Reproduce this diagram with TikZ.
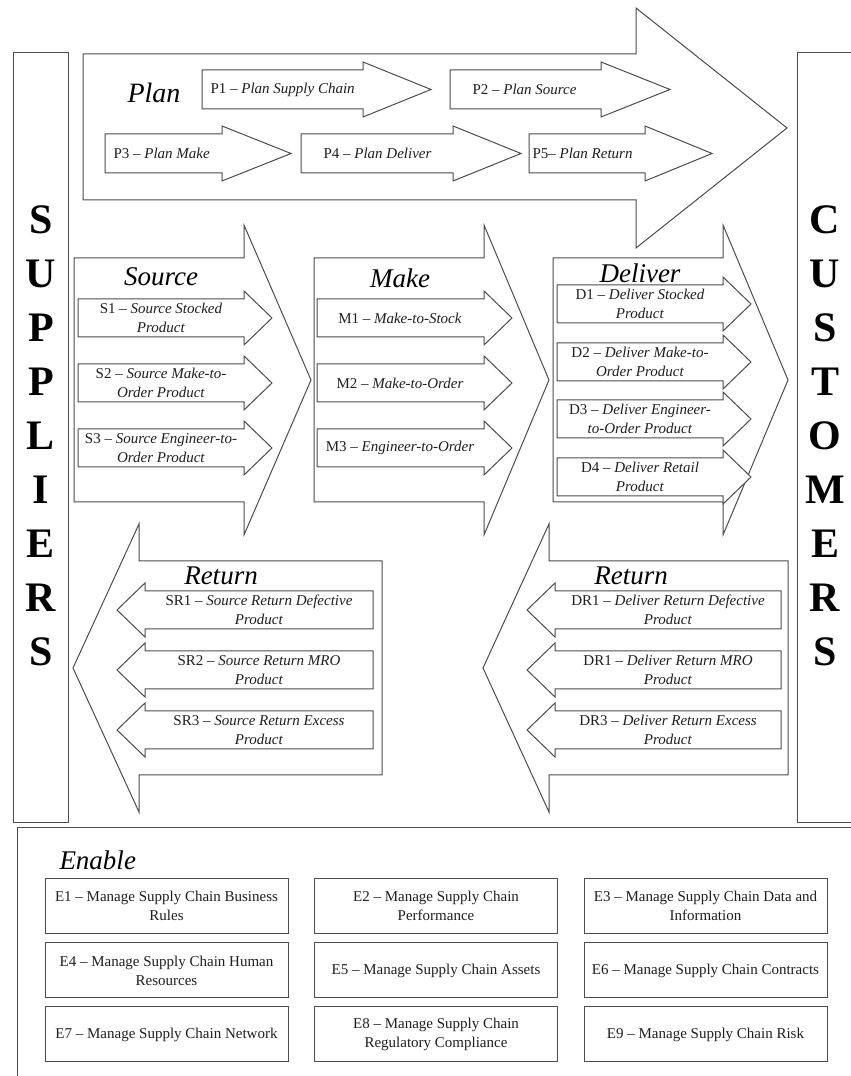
\documentclass[tikz,border=0pt]{standalone}
\usepackage{fontspec}
\setmainfont{Liberation Serif}
\begin{document}
\begin{tikzpicture}[>=latex,line join=miter,
  blockarrow/.style={draw=strokecol,fill=white},
  small/.style={inner sep=0pt,align=center,text=textcol,font=\fontsize{15bp}{19bp}\selectfont},
  heading/.style={inner sep=0pt,font=\fontsize{27bp}{30bp}\selectfont\itshape},
  ebox/.style={draw=strokecol,fill=white,minimum width=243bp,minimum height=55bp,inner sep=0pt,
    align=center,text=textcol,font=\fontsize{15bp}{19bp}\selectfont},
  side/.style={inner sep=0pt,align=center,font=\fontsize{42bp}{54bp}\selectfont\bfseries}]
  \pgfsetlinewidth{1bp}
  \definecolor{strokecol}{rgb}{0.3,0.3,0.3}
  \definecolor{textcol}{rgb}{0.12,0.12,0.12}
  \useasboundingbox (0bp,0bp) rectangle (851bp,1076bp);
  \fill[white] (0bp,0bp) rectangle (851bp,1076bp);
  \clip (0bp,0bp) rectangle (851bp,1076bp);
  % Frame: Suppliers
  \draw[strokecol] (13bp,253bp) rectangle (68bp,1023bp);
  \node[side] (suppliers) at (41bp,640bp) {S\\U\\P\\P\\L\\I\\E\\R\\S};
  % Frame: Customers
  \draw[strokecol] (797bp,253bp) rectangle (860bp,1023bp);
  \node[side] (customers) at (825bp,640bp) {C\\U\\S\\T\\O\\M\\E\\R\\S};
  % Frame: Enable
  \draw[strokecol] (17bp,-10bp) rectangle (860bp,248bp);
  %
  % Arrow: Plan
  \draw[blockarrow] (83bp,1022bp) -- (636bp,1022bp) -- (636bp,1068bp) -- (787bp,948bp) -- (636bp,828bp) -- (636bp,876bp) -- (83bp,876bp) -- cycle;
  \node[heading,font=\fontsize{28bp}{30bp}\selectfont\itshape] (plan) at (154bp,983bp) {Plan};
  % Arrow: P1
  \draw[blockarrow] (202bp,1006bp) -- (363bp,1006bp) -- (363bp,1014bp) -- (431bp,986.5bp) -- (363bp,959bp) -- (363bp,967bp) -- (202bp,967bp) -- cycle;
  \node[small,anchor=west] (p1) at (210bp,986.5bp) {P1 -- \textit{Plan Supply Chain}};
  % Arrow: P2
  \draw[blockarrow] (450bp,1006bp) -- (601bp,1006bp) -- (601bp,1014bp) -- (670bp,986.5bp) -- (601bp,959bp) -- (601bp,967bp) -- (450bp,967bp) -- cycle;
  \node[small,anchor=west] (p2) at (472bp,986.5bp) {P2 -- \textit{Plan Source}};
  % Arrow: P3
  \draw[blockarrow] (105bp,942bp) -- (222bp,942bp) -- (222bp,950bp) -- (291bp,922.5bp) -- (222bp,895bp) -- (222bp,903bp) -- (105bp,903bp) -- cycle;
  \node[small,anchor=west] (p3) at (113bp,922.5bp) {P3 -- \textit{Plan Make}};
  % Arrow: P4
  \draw[blockarrow] (301bp,942bp) -- (453bp,942bp) -- (453bp,950bp) -- (521bp,922.5bp) -- (453bp,895bp) -- (453bp,903bp) -- (301bp,903bp) -- cycle;
  \node[small,anchor=west] (p4) at (323bp,922.5bp) {P4 -- \textit{Plan Deliver}};
  % Arrow: P5
  \draw[blockarrow] (529bp,942bp) -- (645bp,942bp) -- (645bp,950bp) -- (712bp,922.5bp) -- (645bp,895bp) -- (645bp,903bp) -- (529bp,903bp) -- cycle;
  \node[small,anchor=west] (p5) at (532bp,922.5bp) {P5-- \textit{Plan Return}};
  %
  % Arrow: Source
  \draw[blockarrow] (74bp,818bp) -- (244bp,818bp) -- (244bp,851bp) -- (311bp,696bp) -- (244bp,541bp) -- (244bp,574bp) -- (74bp,574bp) -- cycle;
  \node[heading] (source) at (161bp,799bp) {Source};
  % Arrow: S1
  \draw[blockarrow] (78bp,777bp) -- (244bp,777bp) -- (244bp,785bp) -- (272bp,758bp) -- (244bp,731bp) -- (244bp,739bp) -- (78bp,739bp) -- cycle;
  \node[small] (s1) at (161bp,758bp) {S1 -- \textit{Source Stocked}\\\textit{Product}};
  % Arrow: S2
  \draw[blockarrow] (78bp,712bp) -- (244bp,712bp) -- (244bp,720bp) -- (272bp,693bp) -- (244bp,666bp) -- (244bp,674bp) -- (78bp,674bp) -- cycle;
  \node[small] (s2) at (161bp,693bp) {S2 -- \textit{Source Make-to-}\\\textit{Order Product}};
  % Arrow: S3
  \draw[blockarrow] (78bp,647bp) -- (244bp,647bp) -- (244bp,655bp) -- (272bp,628bp) -- (244bp,601bp) -- (244bp,609bp) -- (78bp,609bp) -- cycle;
  \node[small] (s3) at (161bp,628bp) {S3 -- \textit{Source Engineer-to-}\\\textit{Order Product}};
  %
  % Arrow: Make
  \draw[blockarrow] (314bp,818bp) -- (484bp,818bp) -- (484bp,851bp) -- (549bp,696bp) -- (484bp,541bp) -- (484bp,574bp) -- (314bp,574bp) -- cycle;
  \node[heading] (make) at (400bp,798bp) {Make};
  % Arrow: M1
  \draw[blockarrow] (317bp,777bp) -- (484bp,777bp) -- (484bp,785bp) -- (512bp,758bp) -- (484bp,731bp) -- (484bp,739bp) -- (317bp,739bp) -- cycle;
  \node[small] (m1) at (400bp,758bp) {M1 -- \textit{Make-to-Stock}};
  % Arrow: M2
  \draw[blockarrow] (317bp,712bp) -- (484bp,712bp) -- (484bp,720bp) -- (512bp,693bp) -- (484bp,666bp) -- (484bp,674bp) -- (317bp,674bp) -- cycle;
  \node[small] (m2) at (400bp,693bp) {M2 -- \textit{Make-to-Order}};
  % Arrow: M3
  \draw[blockarrow] (317bp,647bp) -- (484bp,647bp) -- (484bp,655bp) -- (512bp,628bp) -- (484bp,601bp) -- (484bp,609bp) -- (317bp,609bp) -- cycle;
  \node[small] (m3) at (400bp,628bp) {M3 -- \textit{Engineer-to-Order}};
  %
  % Arrow: Deliver
  \draw[blockarrow] (553bp,818bp) -- (723bp,818bp) -- (723bp,851bp) -- (788bp,696bp) -- (723bp,541bp) -- (723bp,574bp) -- (553bp,574bp) -- cycle;
  \node[heading] (deliver) at (640bp,803bp) {Deliver};
  % Arrow: D1
  \draw[blockarrow] (557bp,791bp) -- (723bp,791bp) -- (723bp,799bp) -- (751bp,772bp) -- (723bp,745bp) -- (723bp,753bp) -- (557bp,753bp) -- cycle;
  \node[small] (d1) at (640bp,772bp) {D1 -- \textit{Deliver Stocked}\\\textit{Product}};
  % Arrow: D2
  \draw[blockarrow] (557bp,733bp) -- (723bp,733bp) -- (723bp,741bp) -- (751bp,714bp) -- (723bp,687bp) -- (723bp,695bp) -- (557bp,695bp) -- cycle;
  \node[small] (d2) at (640bp,714bp) {D2 -- \textit{Deliver Make-to-}\\\textit{Order Product}};
  % Arrow: D3
  \draw[blockarrow] (557bp,676bp) -- (723bp,676bp) -- (723bp,684bp) -- (751bp,657bp) -- (723bp,630bp) -- (723bp,638bp) -- (557bp,638bp) -- cycle;
  \node[small] (d3) at (640bp,657bp) {D3 -- \textit{Deliver Engineer-}\\\textit{to-Order Product}};
  % Arrow: D4
  \draw[blockarrow] (557bp,618bp) -- (723bp,618bp) -- (723bp,626bp) -- (751bp,599bp) -- (723bp,572bp) -- (723bp,580bp) -- (557bp,580bp) -- cycle;
  \node[small] (d4) at (640bp,599bp) {D4 -- \textit{Deliver Retail}\\\textit{Product}};
  %
  % Arrow: Source Return
  \draw[blockarrow] (382bp,515bp) -- (139bp,515bp) -- (139bp,552bp) -- (73bp,408bp) -- (139bp,264bp) -- (139bp,301bp) -- (382bp,301bp) -- cycle;
  \node[heading] (sreturn) at (221bp,500bp) {Return};
  % Arrow: SR1
  \draw[blockarrow] (373bp,485bp) -- (145bp,485bp) -- (145bp,493bp) -- (117bp,466bp) -- (145bp,439bp) -- (145bp,447bp) -- (373bp,447bp) -- cycle;
  \node[small] (sr1) at (259bp,466bp) {SR1 -- \textit{Source Return Defective}\\\textit{Product}};
  % Arrow: SR2
  \draw[blockarrow] (373bp,425bp) -- (145bp,425bp) -- (145bp,433bp) -- (117bp,406bp) -- (145bp,379bp) -- (145bp,387bp) -- (373bp,387bp) -- cycle;
  \node[small] (sr2) at (259bp,406bp) {SR2 -- \textit{Source Return MRO}\\\textit{Product}};
  % Arrow: SR3
  \draw[blockarrow] (373bp,365bp) -- (145bp,365bp) -- (145bp,373bp) -- (117bp,346bp) -- (145bp,319bp) -- (145bp,327bp) -- (373bp,327bp) -- cycle;
  \node[small] (sr3) at (259bp,346bp) {SR3 -- \textit{Source Return Excess}\\\textit{Product}};
  %
  % Arrow: Deliver Return
  \draw[blockarrow] (788bp,515bp) -- (549bp,515bp) -- (549bp,552bp) -- (483bp,408bp) -- (549bp,264bp) -- (549bp,301bp) -- (788bp,301bp) -- cycle;
  \node[heading] (dreturn) at (631bp,500bp) {Return};
  % Arrow: DR1
  \draw[blockarrow] (781bp,485bp) -- (555bp,485bp) -- (555bp,493bp) -- (527bp,466bp) -- (555bp,439bp) -- (555bp,447bp) -- (781bp,447bp) -- cycle;
  \node[small] (dr1) at (668bp,466bp) {DR1 -- \textit{Deliver Return Defective}\\\textit{Product}};
  % Arrow: DR2
  \draw[blockarrow] (781bp,425bp) -- (555bp,425bp) -- (555bp,433bp) -- (527bp,406bp) -- (555bp,379bp) -- (555bp,387bp) -- (781bp,387bp) -- cycle;
  \node[small] (dr2) at (668bp,406bp) {DR1 -- \textit{Deliver Return MRO}\\\textit{Product}};
  % Arrow: DR3
  \draw[blockarrow] (781bp,365bp) -- (555bp,365bp) -- (555bp,373bp) -- (527bp,346bp) -- (555bp,319bp) -- (555bp,327bp) -- (781bp,327bp) -- cycle;
  \node[small] (dr3) at (668bp,346bp) {DR3 -- \textit{Deliver Return Excess}\\\textit{Product}};
  %
  % Block: Enable
  \node[heading,anchor=west] (enable) at (59bp,216bp) {Enable};
  \node[ebox] (e1) at (166.5bp,170bp) {E1 -- Manage Supply Chain Business\\Rules};
  \node[ebox] (e2) at (436bp,170bp) {E2 -- Manage Supply Chain\\Performance};
  \node[ebox] (e3) at (705.5bp,170bp) {E3 -- Manage Supply Chain Data and\\Information};
  \node[ebox] (e4) at (166.5bp,105.5bp) {E4 -- Manage Supply Chain Human\\Resources};
  \node[ebox] (e5) at (436bp,105.5bp) {E5 -- Manage Supply Chain Assets};
  \node[ebox] (e6) at (705.5bp,105.5bp) {E6 -- Manage Supply Chain Contracts};
  \node[ebox] (e7) at (166.5bp,41.5bp) {E7 -- Manage Supply Chain Network};
  \node[ebox] (e8) at (436bp,41.5bp) {E8 -- Manage Supply Chain\\Regulatory Compliance};
  \node[ebox] (e9) at (705.5bp,41.5bp) {E9 -- Manage Supply Chain Risk};
%
\end{tikzpicture}
\end{document}
